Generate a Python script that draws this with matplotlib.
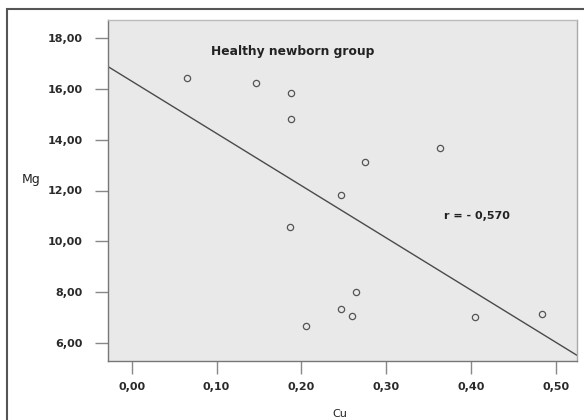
import numpy as np
import matplotlib.pyplot as plt
from matplotlib.patches import Rectangle

# Cu vs Mg, healthy newborn group
cu = [0.065, 0.147, 0.188, 0.188, 0.275, 0.364, 0.247, 0.187,
      0.264, 0.247, 0.260, 0.206, 0.405, 0.484]
mg = [16.43, 16.23, 15.84, 14.82, 13.13, 13.68, 11.83, 10.57,
      8.00, 7.34, 7.06, 6.67, 7.02, 7.14]
x_ticks = [0.0, 0.1, 0.2, 0.3, 0.4, 0.5]
y_ticks = [6, 8, 10, 12, 14, 16, 18]
r_label = 'r = - 0,570'
group_label = 'Healthy newborn group'

fig = plt.figure(figsize=(5.84, 4.2), dpi=100)
# outer frame, only the left and top edges fall inside the picture
fig.patches.append(Rectangle((7/584, -10/420), 600/584, 421/420, transform=fig.transFigure,
                             fill=False, edgecolor='#555555', linewidth=1.5))

ax = fig.add_axes([108/584, 59/420, 469/584, 341/420])
ax.set_facecolor('#e9e9e9')
for s in ax.spines.values():
    s.set_color('#777777')
    s.set_linewidth(1)
ax.spines['right'].set_color('#aaaaaa')
ax.spines['top'].set_color('#bbbbbb')

# least squares fit line
slope, icpt = np.polyfit(cu, mg, 1)
xl = np.array([-0.03, 0.53])
ax.plot(xl, icpt + slope*xl, color='#4a4a4a', linewidth=1)

ax.plot(cu, mg, 'o', markersize=4.5, markerfacecolor='none',
        markeredgecolor='#555555', markeredgewidth=0.9)

ax.set_xlim(-0.028, 0.525)
ax.set_ylim(5.3, 18.7)
ax.set_xticks(x_ticks)
ax.set_yticks(y_ticks)
ax.set_xticklabels([('%.2f' % v).replace('.', ',') for v in x_ticks])
ax.set_yticklabels([('%.2f' % v).replace('.', ',') for v in y_ticks])
ax.tick_params(axis='both', direction='out', width=1, color='#888888',
               labelsize=8, labelcolor='#2a2a2a')
ax.tick_params(axis='y', length=9.4, pad=8.6)
ax.tick_params(axis='x', length=9, pad=6)
for lab in ax.get_xticklabels() + ax.get_yticklabels():
    lab.set_fontweight('bold')

ax.text(0.094, 17.45, group_label, fontsize=8.8, fontweight='bold', color='#222222',
        va='center')
ax.text(0.368, 11.0, r_label, fontsize=8, fontweight='bold', color='#222222',
        va='center')

fig.text(31/584, 1 - 179/420, 'Mg', fontsize=9, color='#222222',
         ha='center', va='center')
fig.text(340/584, 1 - 414/420, 'Cu', fontsize=8, color='#222222',
         ha='center', va='center')

plt.savefig('out.png', dpi=100)
